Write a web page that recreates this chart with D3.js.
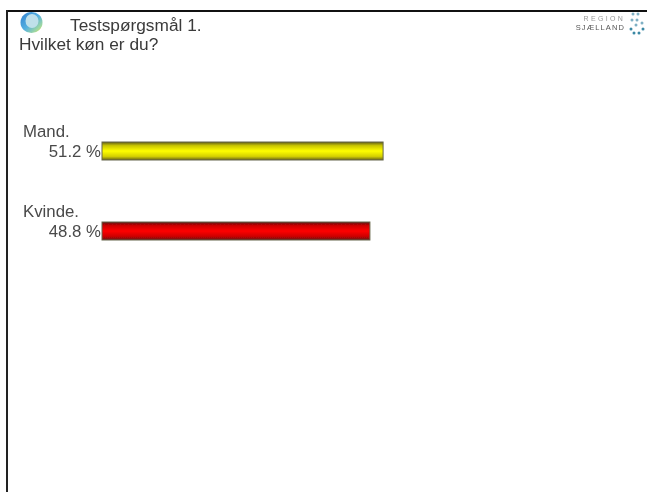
<!DOCTYPE html>
<html><head><meta charset="utf-8">
<script src="https://cdn.jsdelivr.net/npm/d3@7"></script>
<style>html,body{margin:0;padding:0;background:#fff;overflow:hidden}svg{display:block}text{font-family:"Liberation Sans",Arial,sans-serif}</style>
</head><body><div id="c"></div>
<script>
const categories=["Mand.","Kvinde."];
const values=[51.2,48.8];
const valueLabels=["51.2 %","48.8 %"];
const fills=["yellow","red"];
const title=["Testspørgsmål 1.","Hvilket køn er du?"];
const W=647,H=492;
const svg=d3.select("#c").append("svg").attr("width",W).attr("height",H);
const defs=svg.append("defs");
const stops={yellow:["#5f5c18","#c8c400","#ffff00","#d4d000","#6a6618"],red:["#5a1515","#cc0000","#ff0000","#cc0000","#651515"]};
fills.forEach(f=>{const g=defs.append("linearGradient").attr("id","g-"+f).attr("x1",0).attr("x2",0).attr("y1",0).attr("y2",1);
 [0,.2,.5,.8,1].forEach((o,i)=>g.append("stop").attr("offset",o).attr("stop-color",stops[f][i]));});
const lg=defs.append("linearGradient").attr("id","logo").attr("x1",0).attr("x2",1).attr("y1",0).attr("y2",1);
[["#2f7fd0",0],["#55b0e0",.5],["#a0d8a0",.8],["#f0d820",1]].forEach(d=>lg.append("stop").attr("offset",d[1]).attr("stop-color",d[0]));
const blur=defs.append("filter").attr("id","soft").attr("x","-10%").attr("y","-10%").attr("width","120%").attr("height","120%");
blur.append("feGaussianBlur").attr("stdDeviation",0.55);
const blur2=defs.append("filter").attr("id","soft2");
blur2.append("feGaussianBlur").attr("stdDeviation",0.7);

// frame
svg.append("line").attr("x1",6).attr("x2",W).attr("y1",11).attr("y2",11).attr("stroke","#111").attr("stroke-width",2);
svg.append("line").attr("x1",7).attr("x2",7).attr("y1",10).attr("y2",H).attr("stroke","#222").attr("stroke-width",2);

// logo left
const lo=svg.append("g").attr("filter","url(#soft)");
lo.append("ellipse").attr("cx",31.5).attr("cy",22.5).attr("rx",11).attr("ry",10.5).attr("fill","url(#logo)");
lo.append("ellipse").attr("cx",32).attr("cy",21).attr("rx",6.5).attr("ry",7).attr("fill","#bfe0ea");

// title
const tg=svg.append("g").attr("filter","url(#soft)").attr("fill","#3a3a3a").attr("font-size",17.3);
tg.append("text").attr("x",70).attr("y",31).text(title[0]);
tg.append("text").attr("x",19).attr("y",50).text(title[1]);

// logo right
const rg=svg.append("g").attr("filter","url(#soft2)");
rg.append("text").attr("x",625).attr("y",21).attr("text-anchor","end").attr("font-size",7).attr("letter-spacing",2.3).attr("fill","#999").text("REGION");
rg.append("text").attr("x",625).attr("y",30).attr("text-anchor","end").attr("font-size",7.5).attr("letter-spacing",1.1).attr("fill","#555").text("SJÆLLAND");
const dotsTop=[[633,14],[638,14],[632,20],[637,20],[642,23],[636,25]];
const dotsBot=[[631,29],[634,33],[639,33],[643,29]];
rg.selectAll("circle.a").data(dotsTop).join("circle").attr("cx",d=>d[0]).attr("cy",d=>d[1]).attr("r",1.5).attr("fill","#7fb0c4");
rg.selectAll("circle.b").data(dotsBot).join("circle").attr("cx",d=>d[0]).attr("cy",d=>d[1]).attr("r",1.5).attr("fill","#3a88a4");

// chart
const x=d3.scaleLinear().domain([0,100]).range([102,651]);
const y=d3.scaleBand().domain(categories).range([120,280]).paddingInner(0).paddingOuter(0);
const rows=svg.selectAll("g.row").data(categories).join("g").attr("class","row");
rows.append("rect").attr("x",x(0)).attr("y",c=>y(c)+22).attr("width",(c,i)=>x(values[i])-x(0)).attr("height",18)
 .attr("fill",(c,i)=>`url(#g-${fills[i]})`).attr("stroke","#66664a").attr("stroke-width",1).attr("filter","url(#soft)");
const tl=rows.append("g").attr("filter","url(#soft)").attr("fill","#4a4a4a").attr("font-size",16.8);
tl.append("text").attr("x",23).attr("y",c=>y(c)+17).text(c=>c);
tl.append("text").attr("x",101).attr("y",c=>y(c)+36.5).attr("text-anchor","end").text((c,i)=>valueLabels[i]);
</script></body></html>
